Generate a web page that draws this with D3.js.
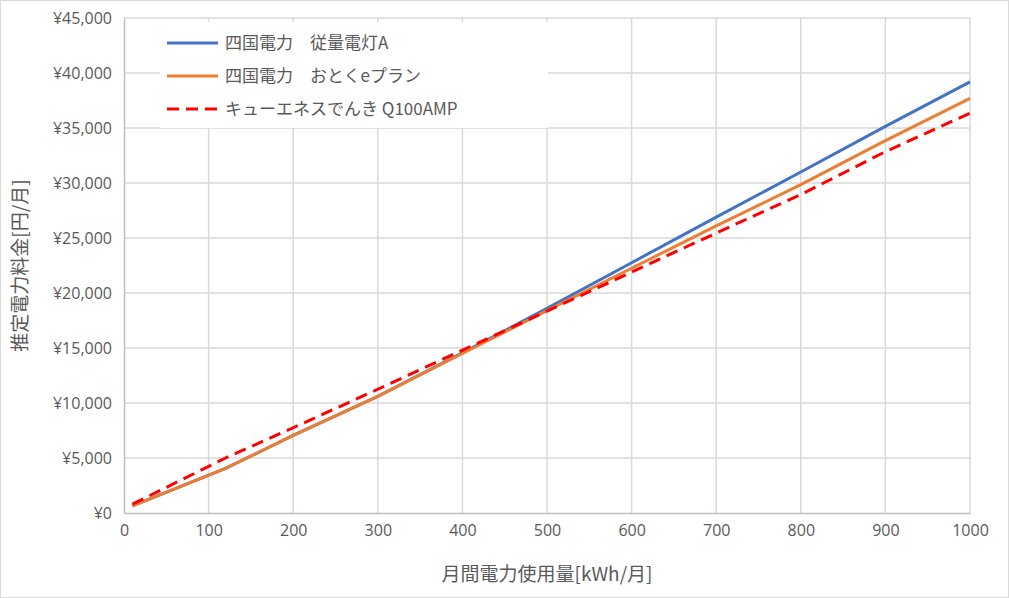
<!DOCTYPE html>
<html>
<head>
<meta charset="utf-8">
<script src="https://cdn.jsdelivr.net/npm/d3@7"></script>
<style>
    body { margin: 0; background: #ffffff; }
    text { font-family: "Noto Sans CJK JP", "Noto Sans", sans-serif; fill: #595959; }
</style>
</head>
<body>
<div id="chart"></div>
<script>
// kWh per month
var usage = [10, 120, 200, 300, 400, 500, 600, 700, 800, 900, 1000];
// yen per month
var juryoA = [650, 4050, 7050, 10600, 14550, 18600, 22750, 26900, 31000, 35150, 39200];
var otokuE = [650, 4050, 7050, 10600, 14500, 18400, 22250, 26100, 29850, 33850, 37700];
var q100amp = [800, 5000, 7750, 11250, 14800, 18350, 21900, 25450, 28950, 32850, 36350];

var seriesNames = ["四国電力　従量電灯A", "四国電力　おとくeプラン", "キューエネスでんき Q100AMP"];
var seriesColors = ["#4472c4", "#ed7d31", "#ff0000"];
var xTicks = [0, 100, 200, 300, 400, 500, 600, 700, 800, 900, 1000];
var yTicks = [0, 5000, 10000, 15000, 20000, 25000, 30000, 35000, 40000, 45000];

var width = 1009, height = 598;
var margin = {left: 124, right: 39, top: 18, bottom: 85};

var svg = d3.select("#chart").append("svg")
    .attr("width", width)
    .attr("height", height);

svg.append("rect")
    .attr("x", 0.5).attr("y", 0.5)
    .attr("width", width - 1).attr("height", height - 1)
    .attr("fill", "#ffffff")
    .attr("stroke", "#d9d9d9");

var x = d3.scaleLinear().domain([0, 1000]).range([margin.left, width - margin.right]);
var y = d3.scaleLinear().domain([0, 45000]).range([height - margin.bottom, margin.top]);

// grid
svg.append("g").selectAll("line")
    .data(xTicks.slice(1))
    .enter().append("line")
    .attr("x1", function(d) { return x(d); })
    .attr("x2", function(d) { return x(d); })
    .attr("y1", y(45000)).attr("y2", y(0))
    .attr("stroke", "#d9d9d9").attr("stroke-width", 1.5);

svg.append("g").selectAll("line")
    .data(yTicks.slice(1))
    .enter().append("line")
    .attr("x1", x(0)).attr("x2", x(1000))
    .attr("y1", function(d) { return y(d); })
    .attr("y2", function(d) { return y(d); })
    .attr("stroke", "#d9d9d9").attr("stroke-width", 1.5);

// axes
var yen = d3.format(",");
var xAxis = d3.axisBottom(x).tickValues(xTicks).tickSize(0).tickPadding(12)
    .tickFormat(function(d) { return d; });
var yAxis = d3.axisLeft(y).tickValues(yTicks).tickSize(0).tickPadding(12)
    .tickFormat(function(d) { return "¥" + yen(d); });

var gX = svg.append("g")
    .attr("transform", "translate(0," + y(0) + ")")
    .call(xAxis);
var gY = svg.append("g")
    .attr("transform", "translate(" + x(0) + ",0)")
    .call(yAxis);

[gX, gY].forEach(function(g) {
    g.select(".domain").attr("stroke", "#bfbfbf").attr("stroke-width", 1.5);
    g.selectAll("text")
        .style("font-size", "16px")
        .style("font-family", "'Open Sans', 'Noto Sans', sans-serif")
        .attr("fill", "#595959");
});

// axis titles
svg.append("text")
    .attr("x", (x(0) + x(1000)) / 2)
    .attr("y", 581)
    .attr("text-anchor", "middle")
    .style("font-size", "19px")
    .text("月間電力使用量[kWh/月]");

svg.append("text")
    .attr("transform", "translate(27," + ((y(0) + y(45000)) / 2) + ") rotate(-90)")
    .attr("text-anchor", "middle")
    .style("font-size", "19px")
    .text("推定電力料金[円/月]");

// lines
var series = [juryoA, otokuE, q100amp].map(function(vals, i) {
    return {
        name: seriesNames[i],
        color: seriesColors[i],
        dashed: i == 2,
        values: usage.map(function(u, j) { return {kwh: u, yen: vals[j]}; })
    };
});

var line = d3.line()
    .x(function(d) { return x(d.kwh); })
    .y(function(d) { return y(d.yen); });

svg.append("g").selectAll("path")
    .data(series)
    .enter().append("path")
    .attr("fill", "none")
    .attr("stroke", function(d) { return d.color; })
    .attr("stroke-width", 3)
    .attr("stroke-dasharray", function(d) { return d.dashed ? "12,7" : null; })
    .attr("d", function(d) { return line(d.values); });

// legend
var legend = svg.append("g");
legend.append("rect")
    .attr("x", 160).attr("y", 22)
    .attr("width", 388).attr("height", 106)
    .attr("fill", "#ffffff");

var items = legend.selectAll(".item")
    .data(series)
    .enter().append("g")
    .attr("class", "item")
    .attr("transform", function(d, i) { return "translate(167," + (43 + i * 33) + ")"; });

items.append("line")
    .attr("x1", 0).attr("x2", 51)
    .attr("stroke", function(d) { return d.color; })
    .attr("stroke-width", 3)
    .attr("stroke-dasharray", function(d) { return d.dashed ? "12,7" : null; });

items.append("text")
    .attr("x", 58)
    .attr("dy", "0.36em")
    .style("font-size", "17px")
    .text(function(d) { return d.name; });
</script>
</body>
</html>
